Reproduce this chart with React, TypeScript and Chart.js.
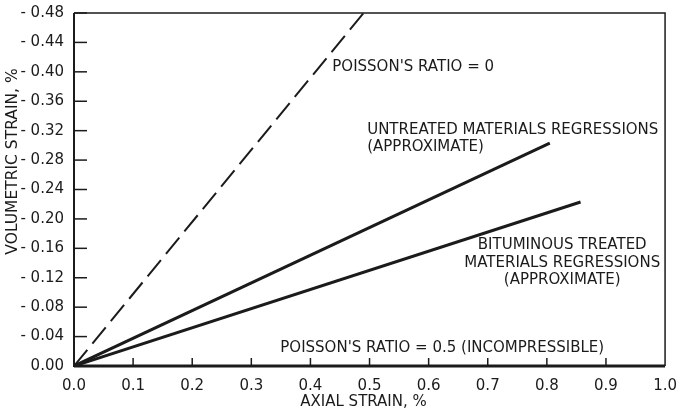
import React, { useEffect, useRef } from "react";
import { Chart, registerables } from "chart.js";

Chart.register(...registerables);

// ---- data ----
const xTickValues = [0, 0.1, 0.2, 0.3, 0.4, 0.5, 0.6, 0.7, 0.8, 0.9, 1.0];
const xTickLabels = ["0.0", "0.1", "0.2", "0.3", "0.4", "0.5", "0.6", "0.7", "0.8", "0.9", "1.0"];
const yTickValues = [0, 0.04, 0.08, 0.12, 0.16, 0.2, 0.24, 0.28, 0.32, 0.36, 0.4, 0.44, 0.48];
const yTickLabels = [
  "0.00", "- 0.04", "- 0.08", "- 0.12", "- 0.16", "- 0.20", "- 0.24",
  "- 0.28", "- 0.32", "- 0.36", "- 0.40", "- 0.44", "- 0.48",
];

const poissonZeroX = [0, 0.49];
const poissonZeroY = [0, 0.48];
const untreatedX = [0, 0.805];
const untreatedY = [0, 0.303];
const bituminousX = [0, 0.857];
const bituminousY = [0, 0.223];
const incompressibleX = [0, 1.0];
const incompressibleY = [0, 0];

const xTitle = "AXIAL STRAIN, %";
const yTitle = "VOLUMETRIC STRAIN, %";

// annotation texts, anchored in data units
const annotationTexts = [
  "POISSON'S RATIO = 0",
  "UNTREATED MATERIALS REGRESSIONS",
  "(APPROXIMATE)",
  "BITUMINOUS TREATED",
  "MATERIALS REGRESSIONS",
  "(APPROXIMATE)",
  "POISSON'S RATIO = 0.5 (INCOMPRESSIBLE)",
];
const annotationX = [0.437, 0.496, 0.496, 0.826, 0.826, 0.826, 0.623];
const annotationY = [0.407, 0.321, 0.297, 0.1645, 0.140, 0.117, 0.0245];
const annotationAlign: CanvasTextAlign[] = ["left", "left", "left", "center", "center", "center", "center"];

const INK = "#1b1b1b";
const FONT = '"DejaVu Sans", sans-serif';

const toPoints = (xs: number[], ys: number[]) => xs.map((x, i) => ({ x, y: ys[i] }));

const framePlugin = {
  id: "frame",
  afterDraw(chart: any) {
    const { ctx, chartArea: a, scales } = chart;
    const xs = scales.x;
    const ys = scales.y;
    ctx.save();
    ctx.strokeStyle = INK;
    ctx.lineCap = "butt";
    // top and right border
    ctx.lineWidth = 1.5;
    ctx.beginPath();
    ctx.moveTo(a.left, a.top);
    ctx.lineTo(a.right, a.top);
    ctx.lineTo(a.right, a.bottom);
    ctx.stroke();
    // left axis
    ctx.lineWidth = 2;
    ctx.beginPath();
    ctx.moveTo(a.left, a.top);
    ctx.lineTo(a.left, a.bottom + 1);
    ctx.stroke();
    // inward ticks
    ctx.lineWidth = 1.5;
    ys.ticks.forEach((t: any) => {
      if (t.value === 0) return;
      const py = ys.getPixelForValue(t.value);
      ctx.beginPath();
      ctx.moveTo(a.left, py);
      ctx.lineTo(a.left + 13, py);
      ctx.stroke();
    });
    xs.ticks.forEach((t: any) => {
      if (t.value === 0 || t.value === 1) return;
      const px = xs.getPixelForValue(t.value);
      ctx.beginPath();
      ctx.moveTo(px, a.bottom);
      ctx.lineTo(px, a.bottom - 8);
      ctx.stroke();
    });
    // annotations
    ctx.fillStyle = INK;
    ctx.font = `15px ${FONT}`;
    ctx.textBaseline = "middle";
    annotationTexts.forEach((txt, i) => {
      ctx.textAlign = annotationAlign[i];
      ctx.fillText(txt, xs.getPixelForValue(annotationX[i]), ys.getPixelForValue(annotationY[i]));
    });
    // axis titles
    ctx.textAlign = "center";
    ctx.fillText(xTitle, (a.left + a.right) / 2 - 6, a.bottom + 36);
    ctx.save();
    ctx.translate(13, (a.top + a.bottom) / 2 - 28);
    ctx.rotate(-Math.PI / 2);
    ctx.font = `15.5px ${FONT}`;
    ctx.fillText(yTitle, 0, 0);
    ctx.restore();
    ctx.restore();
  },
};

export default function App() {
  const ref = useRef<HTMLCanvasElement | null>(null);
  useEffect(() => {
    document.body.style.margin = "0";
    const canvas = ref.current;
    if (!canvas) return;
    const line = (xs: number[], ys: number[], extra: any) => ({
      data: toPoints(xs, ys),
      borderColor: INK,
      backgroundColor: INK,
      pointRadius: 0,
      tension: 0,
      fill: false,
      ...extra,
    });
    const chart = new Chart(canvas, {
      type: "line",
      data: {
        datasets: [
          line(poissonZeroX, poissonZeroY, { borderWidth: 2, borderDash: [21, 8], label: "Poisson's ratio = 0" }),
          line(untreatedX, untreatedY, { borderWidth: 3, label: "Untreated" }),
          line(bituminousX, bituminousY, { borderWidth: 3, label: "Bituminous treated" }),
          line(incompressibleX, incompressibleY, { borderWidth: 3, clip: false, label: "Incompressible" }),
        ],
      },
      options: {
        animation: false,
        responsive: false,
        maintainAspectRatio: false,
        layout: { padding: { top: 13, right: 5, left: 0, bottom: 0 } },
        plugins: { legend: { display: false }, tooltip: { enabled: false } },
        scales: {
          x: {
            type: "linear",
            min: 0,
            max: 1,
            grid: { display: false },
            border: { display: false },
            afterBuildTicks: (s: any) => {
              s.ticks = xTickValues.map((v) => ({ value: v }));
            },
            afterFit: (s: any) => {
              s.height = 46;
            },
            ticks: {
              autoSkip: false,
              maxRotation: 0,
              padding: 3,
              color: INK,
              font: { family: FONT, size: 15 },
              callback: (_v: any, i: number) => xTickLabels[i],
            },
          },
          y: {
            type: "linear",
            min: 0,
            max: 0.48,
            grid: { display: false },
            border: { display: false },
            afterBuildTicks: (s: any) => {
              s.ticks = yTickValues.map((v) => ({ value: v }));
            },
            afterFit: (s: any) => {
              s.width = 74;
            },
            ticks: {
              autoSkip: false,
              padding: 2,
              color: INK,
              font: { family: FONT, size: 15 },
              callback: (_v: any, i: number) => yTickLabels[i],
            },
          },
        },
      },
      plugins: [framePlugin],
    });
    return () => chart.destroy();
  }, []);
  return (
    <div style={{ width: 680, height: 412, background: "#fff" }}>
      <canvas ref={ref} width={680} height={412} />
    </div>
  );
}
